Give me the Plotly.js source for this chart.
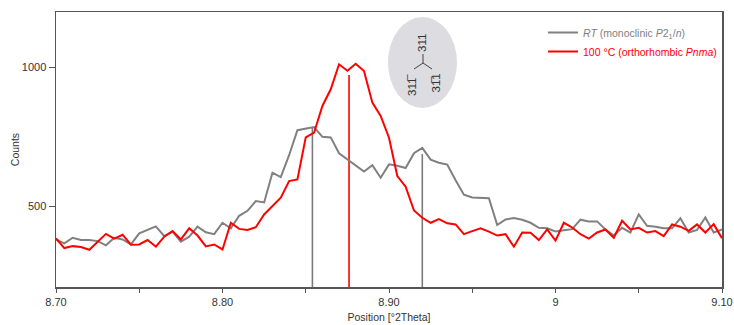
<!DOCTYPE html>
<html><head><meta charset="utf-8">
<script src="https://cdn.plot.ly/plotly-3.0.1.min.js"></script>
<style>html,body{margin:0;padding:0;background:#fff}#chart{width:734px;height:325px}</style>
</head><body><div id="chart"></div>
<script>
// 2Theta positions (°)
const positions = [8.700,8.705,8.710,8.715,8.720,8.725,8.730,8.735,8.740,8.745,
  8.750,8.755,8.760,8.765,8.770,8.775,8.780,8.785,8.790,8.795,
  8.800,8.805,8.810,8.815,8.820,8.825,8.830,8.835,8.840,8.845,
  8.850,8.855,8.860,8.865,8.870,8.875,8.880,8.885,8.890,8.895,
  8.900,8.905,8.910,8.915,8.920,8.925,8.930,8.935,8.940,8.945,
  8.950,8.955,8.960,8.965,8.970,8.975,8.980,8.985,8.990,8.995,
  9.000,9.005,9.010,9.015,9.020,9.025,9.030,9.035,9.040,9.045,
  9.050,9.055,9.060,9.065,9.070,9.075,9.080,9.085,9.090,9.095,9.100];
// RT (monoclinic) counts
const countsRT = [380,366,386,378,378,374,359,386,380,362,
  402,414,427,392,408,372,390,426,406,399,
  440,420,465,483,518,513,620,604,683,773,
  779,784,749,747,690,667,644,624,647,602,
  650,645,637,690,709,667,656,649,593,541,
  531,530,528,432,452,457,451,440,422,420,
  409,413,417,451,445,445,416,394,422,405,
  470,429,426,420,420,456,405,414,459,405,416];
// 100 °C (orthorhombic) counts
const counts100C = [384,349,356,353,343,371,400,383,397,361,
  362,378,354,390,410,380,420,394,355,362,
  344,440,418,414,424,470,500,530,590,596,
  747,764,860,920,1010,987,1012,986,872,824,
  746,608,570,484,458,440,453,438,434,399,
  410,420,408,394,399,354,405,404,378,416,
  376,440,423,399,383,405,416,386,447,416,
  422,405,410,392,434,426,411,434,405,435,384];
// reference reflection sticks
const stickPosRT = [8.854, 8.920];
const stickTopRT = [782, 687];
const stickPos100C = [8.876];
const stickTop100C = [971];
// axes
const xTickVals = [8.70,8.80,8.90,9.00,9.10];
const xTickText = ['8.70','8.80','8.90','9','9.10'];
const xMinorTickVals = [8.75,8.85,8.95,9.05];
const yTickVals = [500,1000];
const yTickText = ['500','1000'];
const xRange = [8.70, 9.10];
const yRange = [209, 1198];
const nameRT = '<span style="color:#808080"><i>RT</i> (monoclinic <i>P</i>2<sub>1</sub>/<i>n</i>)</span>';
const name100C = '<span style="color:#ff0000">100 °C (orthorhombic <i>Pnma</i>)</span>';
const labelTop = '311';
const labelLeft = '311\u0305';
const labelRight = '31\u03051';

function sticks(pos, top) {
  const x = [], y = [];
  pos.forEach((p, i) => { x.push(p, p, null); y.push(yRange[0], top[i], null); });
  return {x, y};
}
const sRT = sticks(stickPosRT, stickTopRT);
const s100 = sticks(stickPos100C, stickTop100C);

const L = 56, R = 12, T = 12, B = 38, W = 734, H = 325;
const pw = W - L - R, ph = H - T - B;
const px = x => (x - L) / pw;
const py = y => (H - B - y) / ph;

const traces = [
  {x: sRT.x, y: sRT.y, mode: 'lines', line: {color: '#7a7a7a', width: 1.6}, showlegend: false, hoverinfo: 'skip'},
  {x: s100.x, y: s100.y, mode: 'lines', line: {color: '#ff0000', width: 1.6}, showlegend: false, hoverinfo: 'skip'},
  {x: positions, y: countsRT, mode: 'lines', name: nameRT, line: {color: '#808080', width: 2}},
  {x: positions, y: counts100C, mode: 'lines', name: name100C, line: {color: '#ff0000', width: 2}}
];

const fam = 'Liberation Sans, Arial, sans-serif';
const tickFont = {family: fam, size: 11, color: '#333'};
const titleFont = {family: fam, size: 10.5, color: '#333'};
const labelFont = {family: fam, size: 11.5, color: '#333'};
const layout = {
  width: W, height: H,
  margin: {l: L, r: R, t: T, b: B, autoexpand: false},
  paper_bgcolor: '#fff', plot_bgcolor: '#fff',
  font: tickFont,
  showlegend: true,
  legend: {x: px(543), xanchor: 'left', y: py(18), yanchor: 'top', bgcolor: 'rgba(0,0,0,0)',
    font: {family: fam, size: 10.5, color: '#808080'},
    itemwidth: 30, tracegroupgap: 0},
  xaxis: {range: xRange, tickmode: 'array', tickvals: xTickVals, ticktext: xTickText,
    ticks: 'outside', ticklen: 4, tickcolor: '#555', tickwidth: 1,
    minor: {tickmode: 'array', tickvals: xMinorTickVals, ticks: 'outside', ticklen: 4, tickcolor: '#555', tickwidth: 1, showgrid: false},
    showline: true, linecolor: '#555', linewidth: 1.5, mirror: true,
    showgrid: false, zeroline: false, tickfont: tickFont,
    title: {text: 'Position [°2Theta]', font: titleFont, standoff: 7}},
  yaxis: {range: yRange, tickmode: 'array', tickvals: yTickVals, ticktext: yTickText,
    ticks: 'outside', ticklen: 6, tickcolor: '#555', tickwidth: 1,
    showline: true, linecolor: '#555', linewidth: 1.5, mirror: true,
    showgrid: false, zeroline: false, tickfont: tickFont,
    title: {text: 'Counts', font: titleFont, standoff: 0}},
  shapes: [
    {type: 'circle', xref: 'paper', yref: 'paper', x0: px(388), x1: px(457), y0: py(108), y1: py(17),
      fillcolor: '#dcdce1', line: {width: 0}, layer: 'below'},
    {type: 'line', xref: 'paper', yref: 'paper', x0: px(423), x1: px(423), y0: py(54), y1: py(63), line: {color: '#444', width: 1}},
    {type: 'line', xref: 'paper', yref: 'paper', x0: px(423), x1: px(414), y0: py(63), y1: py(69), line: {color: '#444', width: 1}},
    {type: 'line', xref: 'paper', yref: 'paper', x0: px(423), x1: px(432), y0: py(63), y1: py(69), line: {color: '#444', width: 1}}
  ],
  annotations: [
    {xref: 'paper', yref: 'paper', x: px(422), y: py(32), text: labelTop, textangle: -90, showarrow: false, font: labelFont},
    {xref: 'paper', yref: 'paper', x: px(412), y: py(72), text: labelLeft, textangle: -90, showarrow: false, font: labelFont},
    {xref: 'paper', yref: 'paper', x: px(435), y: py(72), text: labelRight, textangle: -90, showarrow: false, font: labelFont}
  ]
};
Plotly.newPlot('chart', traces, layout, {staticPlot: true, displayModeBar: false});
</script>
</body></html>
